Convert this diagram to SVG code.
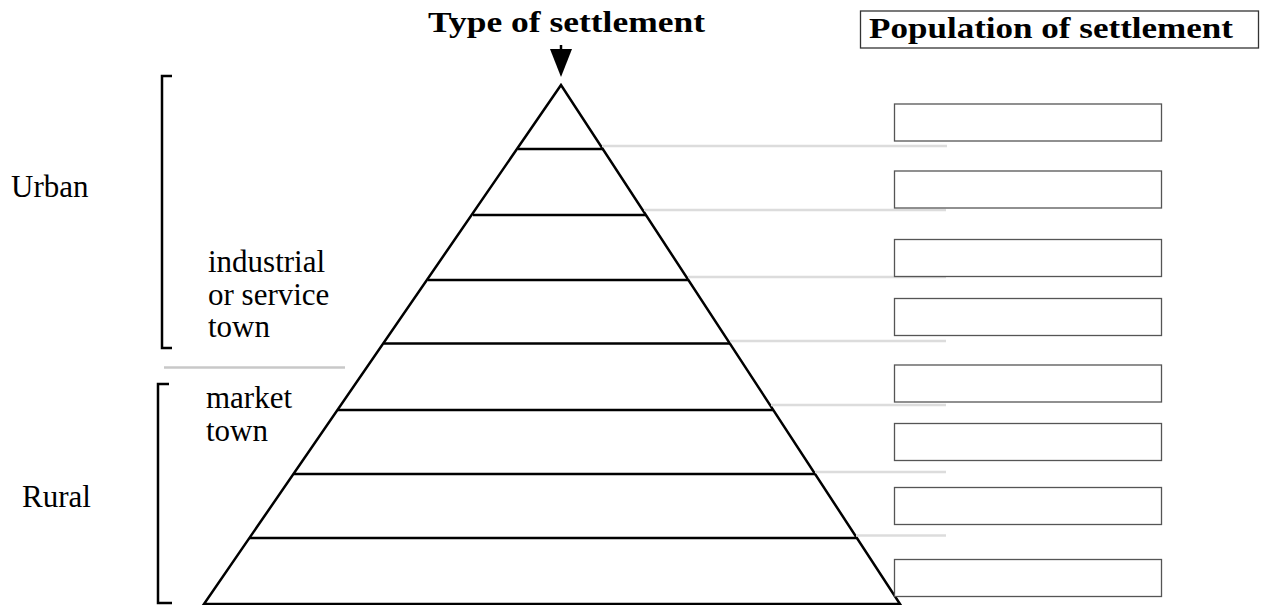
<svg xmlns="http://www.w3.org/2000/svg" width="1265" height="605" viewBox="0 0 1265 605">
<style>
.lbl{font-family:"Liberation Serif","Times New Roman",serif;font-size:31px;fill:#000}
.ttl{font-family:"Liberation Serif","Times New Roman",serif;font-size:30px;font-weight:bold;fill:#000}
.tier{stroke:#000;stroke-width:2.5;fill:none}
.guide{stroke:#dcdcdc;stroke-width:2.5;fill:none}
.box{fill:#fff;stroke:#555;stroke-width:1.3}
.brk{stroke:#000;stroke-width:2.5;fill:none}
</style>
<rect width="1265" height="605" fill="#fff"/>
<g id="title-type">
<text class="ttl" x="428" y="32" textLength="277" lengthAdjust="spacingAndGlyphs">Type of settlement</text>
<line x1="561" y1="45" x2="561" y2="52" stroke="#000" stroke-width="2.5"/>
<polygon points="550,49 572,49 561,77" fill="#000"/>
</g>
<g id="title-population">
<rect x="860.5" y="11" width="398" height="37" fill="#fff" stroke="#333" stroke-width="1.3"/>
<text class="ttl" x="869" y="38" textLength="364" lengthAdjust="spacingAndGlyphs">Population of settlement</text>
</g>
<g id="pyramid">
<polygon points="561,85 204,604 900,604" class="tier" stroke-linejoin="miter"/>
<line class="tier" x1="518" y1="149" x2="603" y2="149"/>
<line class="tier" x1="473" y1="215" x2="646" y2="215"/>
<line class="tier" x1="428" y1="280" x2="688" y2="280"/>
<line class="tier" x1="384" y1="343.5" x2="730" y2="343.5"/>
<line class="tier" x1="338" y1="410" x2="773" y2="410"/>
<line class="tier" x1="294" y1="474" x2="815" y2="474"/>
<line class="tier" x1="249" y1="538" x2="857" y2="538"/>
</g>
<g id="connectors">
<line class="guide" x1="602" y1="146" x2="947" y2="146"/>
<line class="guide" x1="644" y1="210" x2="946" y2="210"/>
<line class="guide" x1="688" y1="277" x2="946" y2="277"/>
<line class="guide" x1="730" y1="341" x2="946" y2="341"/>
<line class="guide" x1="771" y1="405" x2="946" y2="405"/>
<line class="guide" x1="815" y1="472" x2="946" y2="472"/>
<line class="guide" x1="856" y1="535.5" x2="946" y2="535.5"/>
<line x1="164" y1="367.5" x2="345" y2="367.5" stroke="#c8c8c8" stroke-width="2.5"/>
</g>
<g id="boxes">
<rect class="box" x="894.5" y="104" width="267" height="37"/>
<rect class="box" x="894.5" y="171" width="267" height="37"/>
<rect class="box" x="894.5" y="239.5" width="267" height="37"/>
<rect class="box" x="894.5" y="298.5" width="267" height="37"/>
<rect class="box" x="894.5" y="365" width="267" height="37"/>
<rect class="box" x="894.5" y="423.5" width="267" height="37"/>
<rect class="box" x="894.5" y="487.5" width="267" height="37"/>
<rect class="box" x="894.5" y="559.5" width="267" height="37"/>
</g>
<g id="urban">
<path class="brk" d="M172,76 H162 V348 H172"/>
<text class="lbl" x="11" y="197">Urban</text>
</g>
<g id="industrial-town">
<text class="lbl" x="208" y="272">industrial</text>
<text class="lbl" x="208" y="305">or service</text>
<text class="lbl" x="208" y="337">town</text>
</g>
<g id="rural">
<path class="brk" d="M169,384 H158 V603 H172"/>
<text class="lbl" x="22" y="507">Rural</text>
</g>
<g id="market-town">
<text class="lbl" x="206" y="408">market</text>
<text class="lbl" x="206" y="441">town</text>
</g>
</svg>
